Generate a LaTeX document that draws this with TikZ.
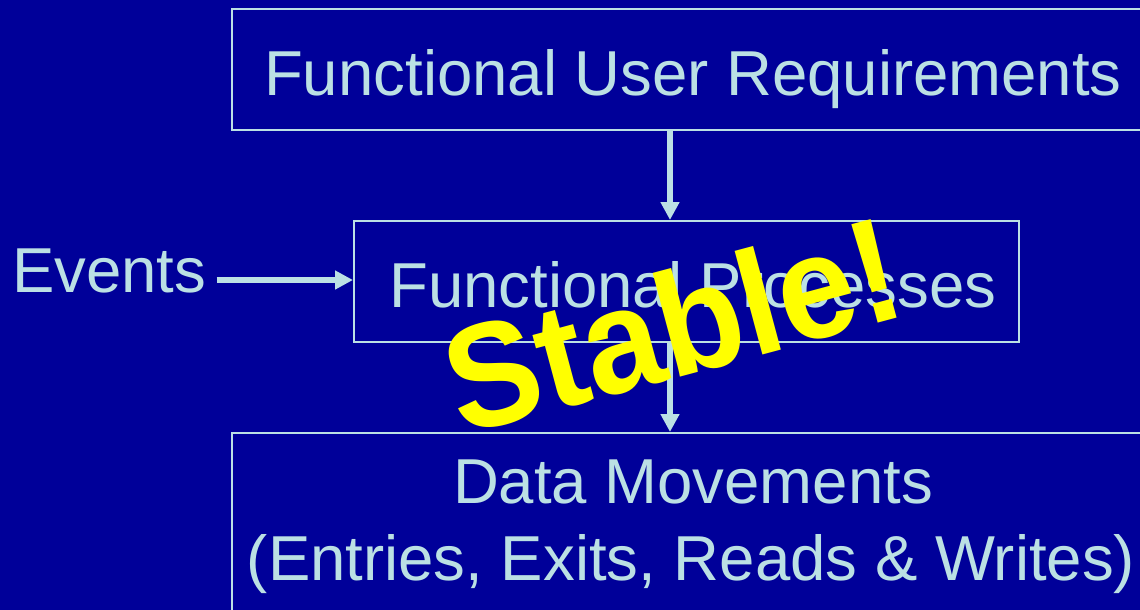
\documentclass[tikz,border=0pt]{standalone}
\usepackage{fontspec}
\setmainfont{Liberation Sans}
\usetikzlibrary{arrows.meta}
\definecolor{slidebg}{RGB}{0,0,153}
\definecolor{ink}{RGB}{187,224,228}
\definecolor{stamp}{RGB}{255,255,0}

\begin{document}
\begin{tikzpicture}[x=1pt,y=-1pt,
  box/.style={draw=ink,line width=2pt,inner sep=0pt,anchor=north west},
  caption/.style={text=ink,font=\fontsize{63.5}{72}\selectfont,inner sep=0pt,anchor=base},
  flow/.style={draw=ink,line width=5.5pt,-{Triangle[width=18pt,length=18pt]}},
]
% slide background and page size
\fill[slidebg] (0,0) rectangle (1140,610);
\useasboundingbox (0,0) rectangle (1140,610);
\clip (0,0) rectangle (1140,610);

% boxes
\node[box,minimum width=924pt,minimum height=121pt] (req) at (231,8) {};
\node[box,minimum width=665pt,minimum height=121pt] (proc) at (353,220) {};
\node[box,minimum width=924pt,minimum height=200pt] (move) at (231,432) {};

% texts
\node[caption] (reqText) at (693,95) {Functional User Requirements};
\node[caption] (procText) at (693,307) {Functional Processes};
\node[caption] (moveTop) at (693,503) {Data Movements};
\node[caption] (moveBottom) at (691,580) {(Entries, Exits, Reads \& Writes)};
\node[caption,anchor=base west] (events) at (12,292) {Events};

% connectors
\coordinate (axis) at (670,0);
\coordinate (evy) at (0,280);
\draw[flow] (axis |- req.south) -- (axis |- proc.north);
\draw[flow] (axis |- proc.south) -- (axis |- move.north);
\draw[flow] ([xshift=10pt]events.east |- evy) -- (proc.west |- evy);

% stamp
\node[text=stamp,font=\fontsize{148}{156}\selectfont\bfseries,rotate=15,anchor=base,inner sep=0pt] (stable) at (686,375) {\scalebox{0.94}[1]{Stable!}};
\end{tikzpicture}
\end{document}
